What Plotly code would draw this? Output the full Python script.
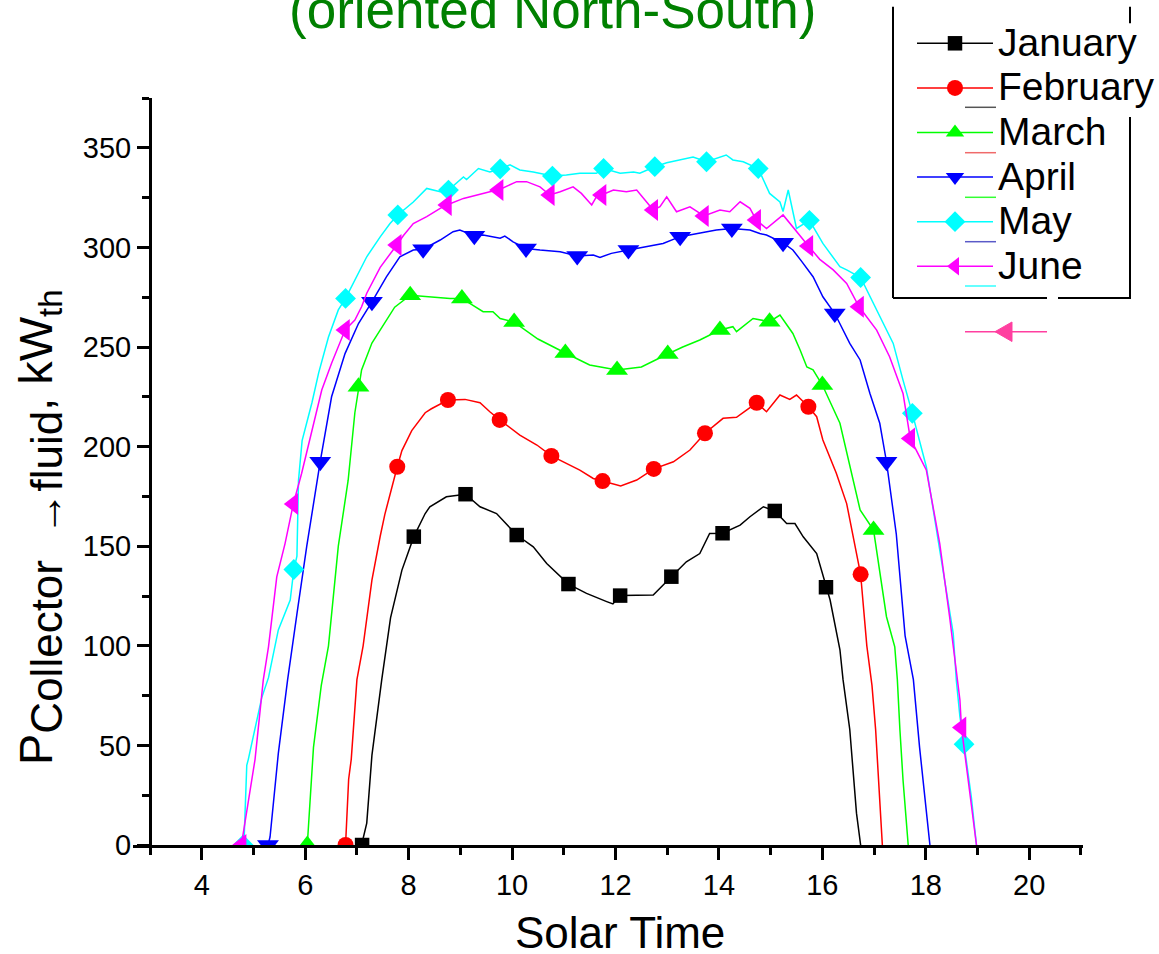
import plotly.graph_objects as go

W, H = 1159, 954
L, R, T, B = 133, 76, 98, 109
FONT = "Liberation Sans, Arial, sans-serif"

months = ["January", "February", "March", "April", "May", "June"]
colors = ["#000000", "#FF0000", "#00FF00", "#0000FF", "#00FFFF", "#FF00FF"]
symbols = ["square", "circle", "triangle-up", "triangle-down", "diamond", "triangle-left"]
msizes = [14.5, 16, 19, 19, 16, 19]

x_ticks = [4, 6, 8, 10, 12, 14, 16, 18, 20]
y_ticks = [0, 50, 100, 150, 200, 250, 300, 350]

# ---- continuous curves (solar time h, kW_th) ----
jan_x = [7.09, 7.19, 7.29, 7.48, 7.65, 7.87, 8.10, 8.32, 8.41, 8.73, 9.10, 9.38, 9.70, 10.09, 10.41, 10.67,
         11.09, 11.44, 11.83, 11.95, 12.09, 12.47, 12.73, 13.08, 13.37, 13.63, 13.82, 14.07, 14.41, 14.60,
         14.86, 15.08, 15.31, 15.47, 15.63, 15.89, 16.07, 16.15, 16.34, 16.40, 16.53, 16.66, 16.74]
jan_y = [0, 11, 45, 83, 114, 138, 154.8, 166.4, 169.8, 174.8, 176.1, 169.8, 166.4, 155.6, 149.7, 141.3,
         131.0, 126.3, 122.2, 121.0, 125.2, 125.5, 125.5, 134.7, 142.2, 146.3, 156.4, 156.5, 160.6, 164.8,
         169.8, 167.7, 161.4, 161.4, 154.7, 146.3, 129.4, 123, 98, 83, 58, 16, 0]

feb_x = [6.78, 6.80, 6.84, 6.89, 7.00, 7.12, 7.29, 7.45, 7.54, 7.78, 7.87, 8.06, 8.32, 8.44, 8.76, 9.09,
         9.38, 9.57, 9.76, 10.15, 10.48, 10.76, 11.31, 11.57, 11.75, 12.10, 12.41, 12.74, 13.12, 13.44,
         13.73, 14.08, 14.34, 14.53, 14.73, 14.92, 15.18, 15.37, 15.50, 15.73, 15.89, 16.01, 16.27, 16.47,
         16.74, 16.86, 16.96, 17.03, 17.10, 17.16]
feb_y = [0, 10, 33, 43, 83, 100, 133, 155, 166, 189.9, 198, 208, 217, 219, 223.4, 223.7,
         222, 217.5, 213.4, 205.8, 200.8, 195.3, 188.2, 184, 182.7, 180.2, 183.2, 188.8, 192.4, 198.3,
         206.7, 214.2, 214.7, 218.4, 222.0, 217.5, 225.9, 223.7, 225.9, 220.0, 215, 203.3, 186.6, 171.4,
         135.9, 100, 80, 58, 25, 0]

mar_x = [6.04, 6.08, 6.16, 6.31, 6.45, 6.64, 6.83, 6.96, 7.03, 7.09, 7.29, 7.48, 7.73, 8.03, 8.47, 8.80,
         9.03, 9.44, 9.63, 9.77, 10.04, 10.50, 11.03, 11.50, 12.03, 12.50, 13.01, 13.30, 13.63, 14.02,
         14.27, 14.34, 14.66, 14.98, 15.18, 15.43, 15.57, 15.70, 15.82, 16.00, 16.34, 16.53, 16.73, 16.99,
         17.24, 17.40, 17.45, 17.50, 17.56, 17.66]
mar_y = [0, 15, 49, 80, 100, 150, 183, 217, 230, 238.5, 252, 260, 270, 276, 275, 274.4,
         274.4, 267.7, 267.7, 264.3, 262.5, 254, 247, 241, 238.5, 240, 246.5, 250, 253.5, 258.5,
         260.2, 257.7, 264.3, 262.7, 266, 256.8, 248.5, 240, 238.5, 230.9, 211.7, 189.9, 168.2, 158.1,
         114.6, 99.5, 83, 57.7, 32.6, 0]

apr_x = [5.28, 5.32, 5.48, 5.66, 5.84, 6.03, 6.29, 6.51, 6.77, 7.03, 7.29, 7.57, 7.83, 8.09, 8.28, 8.61,
         8.86, 8.99, 9.27, 9.44, 9.77, 9.86, 10.02, 10.27, 10.54, 10.93, 11.26, 11.57, 11.70, 11.92, 12.25,
         12.67, 12.92, 13.25, 13.63, 13.95, 14.25, 14.60, 14.79, 14.92, 15.24, 15.43, 15.60, 15.82, 16.01,
         16.24, 16.53, 16.73, 16.92, 17.11, 17.24, 17.43, 17.60, 17.76, 17.88, 18.01, 18.08]
apr_y = [0, 4, 46, 83, 116, 150, 192.4, 225, 246.7, 261.8, 272.7, 285.2, 295.3, 298.7, 299.1, 303.7,
         307.9, 308.7, 305.8, 306.2, 304.6, 305.7, 302.8, 299.5, 298.7, 297.8, 295.7, 296.2, 295, 297, 298.7,
         300.7, 302, 305.4, 307, 308.7, 309.5, 308.7, 307, 306.2, 302.3, 298.7, 293, 285.3, 275.2,
         266.8, 251.8, 243.5, 226.7, 211.7, 192.4, 156, 105, 83, 49, 16, 0]

may_x = [4.80, 4.82, 4.87, 4.90, 5.16, 5.29, 5.48, 5.71, 5.78, 5.84, 5.87, 5.94, 6.13, 6.26, 6.45, 6.64,
         6.78, 7.19, 7.45, 7.64, 7.79, 8.09, 8.35, 8.61, 8.77, 9.06, 9.12, 9.35, 9.57, 9.77, 9.96, 10.15,
         10.41, 10.78, 11.05, 11.31, 11.63, 11.77, 12.09, 12.35, 12.47, 12.76, 12.99, 13.37, 13.50, 13.76,
         14.14, 14.27, 14.47, 14.76, 14.98, 15.18, 15.24, 15.34, 15.50, 15.75, 16.01, 16.34, 16.47, 16.74,
         17.11, 17.37, 17.56, 17.74, 18.01, 18.33, 18.53, 18.59, 18.66, 18.74, 18.88, 18.98]
may_y = [0, 4, 40, 43, 74, 84, 108, 123, 138.3, 145, 183, 203, 222, 237, 255, 268.6,
         274.4, 295.3, 305.3, 312, 316.3, 322.8, 329.6, 327.9, 328.8, 335.4, 334.1, 339.6, 337.9, 339.4, 341.4, 338.9,
         337.9, 335.8, 336.3, 337.2, 337.2, 339.6, 337.2, 337.9, 337.2, 340.5, 342.5, 344.6, 345.4, 343,
         346.4, 343.9, 343, 339.6, 327.1, 322.8, 318, 328.8, 309.5, 313.6, 302, 290.3, 288.7, 284.9,
         265.2, 251.8, 233.4, 216.7, 189.9, 139.7, 106.2, 82.8, 64.4, 50.6, 24.2, 0]

jun_x = [4.77, 4.79, 5.03, 5.19, 5.29, 5.45, 5.61, 5.77, 5.93, 6.13, 6.32, 6.51, 6.77, 6.96, 7.09, 7.19,
         7.45, 7.77, 7.90, 8.09, 8.35, 8.61, 8.74, 9.06, 9.31, 9.57, 9.74, 10.09, 10.28, 10.54, 10.73, 10.93,
         11.18, 11.34, 11.54, 11.63, 11.73, 11.96, 12.21, 12.41, 12.73, 12.86, 12.99, 13.18, 13.44, 13.71,
         14.02, 14.21, 14.41, 14.60, 14.72, 14.92, 15.24, 15.37, 15.73, 15.95, 16.21, 16.47, 16.71, 17.05,
         17.30, 17.56, 17.70, 18.01, 18.27, 18.46, 18.66, 18.69, 18.98]
jun_y = [0, 4, 43, 83, 99.5, 134.6, 151.3, 171.2, 186.5, 208.3, 228.4, 241.8, 258.5, 263.5, 270.2, 277,
         290, 301.2, 306, 312, 315.4, 319.6, 321.3, 324.6, 326.3, 327.9, 328.8, 333, 333, 330.4, 326.3, 327.9,
         330.4, 327.1, 321.3, 325.4, 326.3, 328.8, 327.9, 328.8, 318.8, 320.4, 325.4, 317.9, 320.4, 315.8,
         318.8, 317.9, 322.9, 319.6, 313.8, 309.5, 316.3, 312, 300.7, 294, 288.7, 281.9, 270.2, 258.5,
         245.1, 226.7, 204.1, 188.3, 151.3, 114.6, 72.8, 59, 0]

# ---- hourly symbols ----
jan_mx = [7.10, 8.10, 9.10, 10.09, 11.09, 12.09, 13.08, 14.07, 15.08, 16.07]
jan_my = [0, 154.8, 176.1, 155.6, 131.0, 125.2, 134.7, 156.5, 167.7, 129.4]
feb_mx = [6.78, 7.78, 8.76, 9.76, 10.76, 11.75, 12.74, 13.73, 14.73, 15.73, 16.74]
feb_my = [0, 189.9, 223.4, 213.4, 195.3, 182.7, 188.8, 206.7, 222.0, 220.0, 135.9]
mar_mx = [6.04, 7.03, 8.03, 9.03, 10.04, 11.03, 12.03, 13.01, 14.02, 14.98, 16.00, 16.99]
mar_my = [0, 230, 276, 274.4, 262.5, 247, 238.5, 246.5, 258.5, 262.7, 230.9, 158.1]
apr_mx = [5.28, 6.29, 7.29, 8.28, 9.27, 10.27, 11.26, 12.25, 13.25, 14.25, 15.24, 16.24, 17.24]
apr_my = [0, 192.4, 272.7, 299.1, 305.8, 299.5, 295.7, 298.7, 305.4, 309.5, 302.3, 266.8, 192.4]
may_mx = [4.80, 5.78, 6.78, 7.79, 8.77, 9.77, 10.78, 11.77, 12.76, 13.76, 14.76, 15.75, 16.74, 17.74, 18.74]
may_my = [0, 138.3, 274.4, 316.3, 328.8, 339.4, 335.8, 339.6, 340.5, 343, 339.6, 313.6, 284.9, 216.7, 50.6]
jun_mx = [4.77, 5.77, 6.77, 7.77, 8.74, 9.74, 10.73, 11.73, 12.73, 13.71, 14.72, 15.73, 16.71, 17.70, 18.69]
jun_my = [0, 171.2, 258.5, 301.2, 321.3, 328.8, 326.3, 326.3, 318.8, 315.8, 313.8, 300.7, 270.2, 204.1, 59]

lines = [(jan_x, jan_y), (feb_x, feb_y), (mar_x, mar_y), (apr_x, apr_y), (may_x, may_y), (jun_x, jun_y)]
marks = [(jan_mx, jan_my), (feb_mx, feb_my), (mar_mx, mar_my), (apr_mx, apr_my), (may_mx, may_my), (jun_mx, jun_my)]

PW = W - L - R
PH = H - T - B


def px(xp):
    return (xp - L) / PW


def py(yp):
    return (H - B - yp) / PH


fig = go.Figure()
for i in range(6):
    fig.add_trace(go.Scatter(x=lines[i][0], y=lines[i][1], mode="lines",
                             line=dict(color=colors[i], width=1.5), showlegend=False, hoverinfo="skip"))
    fig.add_trace(go.Scatter(x=marks[i][0], y=marks[i][1], mode="markers",
                             marker=dict(color=colors[i], symbol=symbols[i], size=msizes[i], line=dict(width=0)),
                             showlegend=False))
for i in range(6):
    fig.add_trace(go.Scatter(x=[None], y=[None], mode="lines+markers",
                             name='<span style="font-size:39px">' + months[i] + '</span>',
                             line=dict(color=colors[i], width=1.5),
                             marker=dict(color=colors[i], symbol=symbols[i], size=msizes[i], line=dict(width=0))))

shapes = []
blk = dict(color="black", width=2)
for (x0, y0, x1, y1) in [(893, 6.7, 893, 298), (893, 298, 1047, 298), (1058, 298, 1131, 298),
                         (1130, 6.7, 1130, 23.3), (1130, 117, 1130, 298)]:
    shapes.append(dict(type="line", xref="paper", yref="paper", x0=px(x0), y0=py(y0), x1=px(x1), y1=py(y1), line=blk))
ghost_cols = ["#555555", "#F06A6A", "#33FF33", "#5A5AC8", "#33FFFF"]
ghost_y = [107.3, 152.7, 197.3, 241.7, 286]
for c, gy in zip(ghost_cols, ghost_y):
    shapes.append(dict(type="line", xref="paper", yref="paper", x0=px(965), y0=py(gy), x1=px(996), y1=py(gy),
                       line=dict(color=c, width=1.5)))
pink = "#FF3FA0"
shapes.append(dict(type="line", xref="paper", yref="paper", x0=px(965), y0=py(331.7), x1=px(1047), y1=py(331.7),
                   line=dict(color=pink, width=1.5)))
shapes.append(dict(type="path", xref="paper", yref="paper",
                   path="M %f,%f L %f,%f L %f,%f Z" % (px(995), py(331.7), px(1012), py(322), px(1012), py(341.5)),
                   fillcolor=pink, line=dict(color=pink, width=1)))

annotations = [
    dict(text="(oriented North-South)", xref="paper", yref="paper", x=px(552), y=py(9),
         xanchor="center", yanchor="middle", showarrow=False, font=dict(size=53, color="#008000", family=FONT)),
    dict(text="Solar Time", xref="paper", yref="paper", x=px(620), y=py(932),
         xanchor="center", yanchor="middle", showarrow=False, font=dict(size=44, color="black", family=FONT)),
    dict(text='P<sub><span style="font-size:44px">Collector  →fluid</span></sub>, kW<sub>th</sub>',
         xref="paper", yref="paper", x=px(40), y=py(527),
         xanchor="center", yanchor="middle", textangle=-90, showarrow=False,
         font=dict(size=47, color="black", family=FONT)),
]

fig.update_layout(
    width=W, height=H, margin=dict(l=L, r=R, t=T, b=B, pad=0, autoexpand=False),
    paper_bgcolor="white", plot_bgcolor="white",
    font=dict(family=FONT, color="black"),
    shapes=shapes, annotations=annotations,
    legend=dict(x=px(912), y=py(16), xanchor="left", yanchor="top", bgcolor="rgba(0,0,0,0)",
                borderwidth=0, font=dict(size=32, family=FONT, color="black"), itemwidth=76,
                tracegroupgap=0),
    xaxis=dict(range=[2.67, 21.04], showgrid=False, zeroline=False, showline=True, linecolor="black", linewidth=3,
               tickmode="array", tickvals=x_ticks, ticktext=[str(v) for v in x_ticks],
               ticks="outside", ticklen=12, tickwidth=3, tickcolor="black",
               tickfont=dict(size=29, family=FONT, color="black"),
               minor=dict(dtick=1, tick0=3, ticks="outside", ticklen=7, tickwidth=3, tickcolor="black", showgrid=False)),
    yaxis=dict(range=[0, 375], anchor="free", position=px(150), showgrid=False, zeroline=False, showline=True,
               linecolor="black", linewidth=3,
               tickmode="array", tickvals=y_ticks, ticktext=[str(v) for v in y_ticks],
               ticks="outside", ticklen=12, tickwidth=3, tickcolor="black",
               tickfont=dict(size=29, family=FONT, color="black"),
               minor=dict(dtick=25, tick0=0, ticks="outside", ticklen=7, tickwidth=3, tickcolor="black", showgrid=False)),
)

fig.write_html("out.html")
